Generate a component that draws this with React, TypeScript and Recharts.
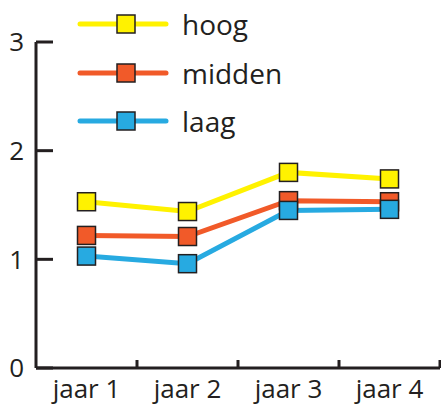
import React from "react";
import { LineChart, Line, XAxis, YAxis } from "recharts";

const years = ["jaar 1", "jaar 2", "jaar 3", "jaar 4"];
const hoog = [1.53, 1.44, 1.8, 1.74];
const midden = [1.22, 1.21, 1.54, 1.53];
const laag = [1.03, 0.96, 1.45, 1.46];
const yTicks = [0, 1, 2, 3];

const series = [
  { key: "hoog", color: "#fff200" },
  { key: "midden", color: "#f15a29" },
  { key: "laag", color: "#27aae1" },
];

const data = years.map((name, i) => ({
  name,
  hoog: hoog[i],
  midden: midden[i],
  laag: laag[i],
}));

const ink = "#231f20";
const font = "'Open Sans', 'Noto Sans', sans-serif";

function squareDot(color: string) {
  return (props: any) => {
    const { cx, cy, index } = props;
    if (cx == null || cy == null) return <g key={index} />;
    return (
      <rect
        key={index}
        x={cx - 9}
        y={cy - 9}
        width={18}
        height={18}
        fill={color}
        stroke={ink}
        strokeWidth={1.5}
      />
    );
  };
}

function YTick(props: any) {
  const { x, y, payload } = props;
  return (
    <g>
      <line x1={x + 12} x2={x + 29} y1={y} y2={y} stroke={ink} strokeWidth={3} />
      <text x={x} y={y} dy="0.36em" textAnchor="end" fill={ink} fontSize={26} fontFamily={font}>
        {payload.value}
      </text>
    </g>
  );
}

function XTick(props: any) {
  const { x, y, payload, width, visibleTicksCount } = props;
  const band = width / visibleTicksCount;
  const axisY = y - 8;
  return (
    <g>
      <line x1={x + band / 2} x2={x + band / 2} y1={axisY} y2={axisY - 8} stroke={ink} strokeWidth={3} />
      <text x={x} y={y} dy="0.85em" textAnchor="middle" fill={ink} fontSize={26} fontFamily={font}>
        {payload.value}
      </text>
    </g>
  );
}

function LegendBox() {
  return (
    <div style={{ position: "absolute", left: 77, top: 0 }}>
      {series.map((s) => (
        <div key={s.key} style={{ display: "flex", alignItems: "center", height: 48.5 }}>
          <svg width={100} height={24}>
            <line x1={3} x2={89} y1={12} y2={12} stroke={s.color} strokeWidth={5} strokeLinecap="round" />
            <rect x={40} y={3} width={18} height={18} fill={s.color} stroke={ink} strokeWidth={1.5} />
          </svg>
          <span style={{ fontFamily: font, fontSize: 28, color: ink, marginLeft: 5, lineHeight: 1 }}>{s.key}</span>
        </div>
      ))}
    </div>
  );
}

export default function App() {
  return (
    <div style={{ position: "absolute", left: 0, top: 0, width: 441, height: 408, background: "#fff" }}>
      <LineChart width={441} height={408} data={data} margin={{ top: 42, right: 1, bottom: 0, left: 0 }}>
        <XAxis
          dataKey="name"
          scale="band"
          height={40}
          axisLine={{ stroke: ink, strokeWidth: 3 }}
          tickLine={false}
          tickSize={0}
          tickMargin={8}
          tick={<XTick />}
          interval={0}
        />
        <YAxis
          width={36}
          domain={[0, 3]}
          ticks={yTicks}
          axisLine={{ stroke: ink, strokeWidth: 3 }}
          tickLine={false}
          tickSize={0}
          tickMargin={12}
          tick={<YTick />}
          interval={0}
        />
        {series.map((s) => (
          <Line
            key={s.key}
            dataKey={s.key}
            stroke={s.color}
            strokeWidth={5}
            dot={squareDot(s.color)}
            activeDot={false}
            isAnimationActive={false}
          />
        ))}
      </LineChart>
      <LegendBox />
    </div>
  );
}
